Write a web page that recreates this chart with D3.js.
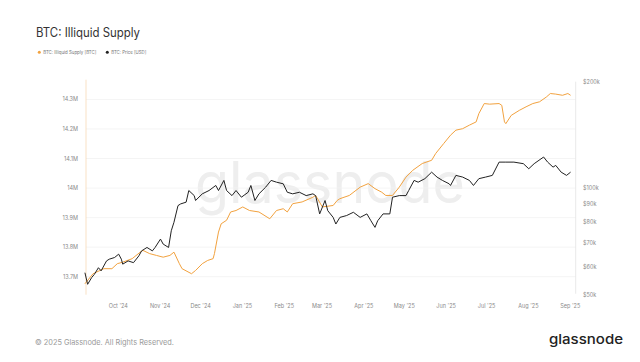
<!DOCTYPE html>
<html>
<head>
<meta charset="utf-8">
<script src="https://cdn.jsdelivr.net/npm/d3@7"></script>
<style>
  body { margin: 0; background: #fff; }
  svg { display: block; font-family: Inter, "Noto Sans", sans-serif; }
</style>
</head>
<body>
<script>
// illiquid supply [BTC, millions]
const supplyDates = ["2024-09-07","2024-09-13","2024-09-21","2024-09-27","2024-10-01","2024-10-05","2024-10-12","2024-10-18","2024-10-20","2024-10-25","2024-10-30","2024-11-04","2024-11-09","2024-11-12","2024-11-16","2024-11-18","2024-11-25","2024-11-28","2024-12-03","2024-12-07","2024-12-11","2024-12-12","2024-12-15","2024-12-17","2024-12-21","2024-12-24","2024-12-28","2025-01-02","2025-01-07","2025-01-14","2025-01-22","2025-01-27","2025-02-01","2025-02-04","2025-02-08","2025-02-15","2025-02-23","2025-02-25","2025-03-02","2025-03-10","2025-03-13","2025-03-15","2025-03-22","2025-03-30","2025-04-05","2025-04-10","2025-04-15","2025-04-18","2025-04-23","2025-04-28","2025-05-03","2025-05-08","2025-05-15","2025-05-22","2025-05-25","2025-05-31","2025-06-05","2025-06-09","2025-06-14","2025-06-19","2025-06-24","2025-06-26","2025-06-30","2025-07-04","2025-07-11","2025-07-13","2025-07-15","2025-07-16","2025-07-20","2025-07-26","2025-07-31","2025-08-05","2025-08-10","2025-08-15","2025-08-18","2025-08-22","2025-08-27","2025-08-31","2025-09-02"];
const supplyValues = [13.676,13.710,13.727,13.727,13.744,13.749,13.761,13.783,13.789,13.778,13.772,13.766,13.772,13.783,13.744,13.727,13.710,13.721,13.744,13.755,13.761,13.778,13.851,13.879,13.891,13.919,13.924,13.936,13.924,13.919,13.896,13.924,13.930,13.919,13.947,13.953,13.969,13.975,13.936,13.941,13.958,13.964,13.975,14.003,14.015,13.998,13.986,13.975,13.975,14.003,14.037,14.060,14.083,14.094,14.117,14.151,14.179,14.196,14.201,14.213,14.224,14.252,14.286,14.284,14.286,14.280,14.224,14.218,14.246,14.263,14.275,14.286,14.292,14.308,14.320,14.318,14.314,14.320,14.314];

// price [USD, thousands]
const priceDates = ["2024-09-07","2024-09-09","2024-09-12","2024-09-14","2024-09-17","2024-09-19","2024-09-23","2024-09-25","2024-09-29","2024-10-02","2024-10-04","2024-10-05","2024-10-09","2024-10-13","2024-10-17","2024-10-19","2024-10-23","2024-10-27","2024-10-29","2024-11-02","2024-11-04","2024-11-08","2024-11-10","2024-11-12","2024-11-15","2024-11-17","2024-11-21","2024-11-23","2024-11-27","2024-11-28","2024-12-03","2024-12-08","2024-12-13","2024-12-15","2024-12-19","2024-12-21","2024-12-25","2024-12-28","2025-01-01","2025-01-06","2025-01-08","2025-01-11","2025-01-14","2025-01-19","2025-01-23","2025-01-27","2025-02-01","2025-02-04","2025-02-08","2025-02-13","2025-02-18","2025-02-23","2025-02-25","2025-02-28","2025-03-04","2025-03-06","2025-03-10","2025-03-12","2025-03-15","2025-03-20","2025-03-25","2025-03-30","2025-04-04","2025-04-07","2025-04-10","2025-04-12","2025-04-16","2025-04-21","2025-04-23","2025-04-28","2025-05-03","2025-05-05","2025-05-09","2025-05-12","2025-05-17","2025-05-22","2025-05-26","2025-05-30","2025-06-04","2025-06-05","2025-06-09","2025-06-14","2025-06-19","2025-06-22","2025-06-26","2025-07-01","2025-07-06","2025-07-11","2025-07-16","2025-07-22","2025-07-29","2025-08-02","2025-08-06","2025-08-13","2025-08-16","2025-08-20","2025-08-22","2025-08-26","2025-08-30","2025-09-02"];
const priceValues = [57.7,53.5,55.9,57.1,59.6,58.4,62.3,63.0,63.7,65.1,63.0,61.0,62.3,61.6,64.4,66.5,68.0,66.5,68.0,71.8,69.5,68.0,75.8,80.1,89.3,90.3,91.3,98.5,95.3,92.3,96.4,98.5,101.8,98.5,105.2,98.5,95.3,98.5,94.3,97.4,101.8,92.3,96.4,100.7,105.2,104.0,102.9,97.4,96.4,97.4,95.3,96.4,95.3,84.6,92.3,86.4,82.7,79.2,82.7,83.7,85.5,82.7,84.6,80.9,77.5,80.9,84.6,84.6,94.3,95.3,95.3,98.5,105.2,104.0,106.4,111.0,107.5,105.2,102.9,101.8,108.7,107.5,105.2,101.8,106.4,107.5,108.7,118.5,118.5,118.5,117.3,113.5,117.3,122.5,118.5,114.7,116.0,111.0,108.7,111.0];

const supplyTicks = [13.7, 13.8, 13.9, 14.0, 14.1, 14.2, 14.3];
const priceTicks = [50, 60, 70, 80, 90, 100, 200];
const monthTicks = ["2024-10-01","2024-11-01","2024-12-01","2025-01-01","2025-02-01","2025-03-01","2025-04-01","2025-05-01","2025-06-01","2025-07-01","2025-08-01","2025-09-01"];

const W = 640, H = 362;
const plotLeft = 86, plotRight = 575.7, plotTop = 81.7, plotBottom = 294.7;
const orange = "#f2a23f", black = "#222";

let svg = d3.select("body").append("svg").attr("width", W).attr("height", H);

let x = d3.scaleUtc()
    .domain([new Date(Date.UTC(2024, 8, 7, 19)), new Date(Date.UTC(2025, 8, 5, 19))])
    .range([plotLeft, plotRight]);
let yL = d3.scaleLinear().domain([13.639, 14.36]).range([plotBottom, plotTop]);
let yR = d3.scaleLog().domain([50, 200]).range([plotBottom, plotTop]);

// watermark
svg.append("text")
    .attr("x", 195).attr("y", 203)
    .attr("textLength", 270).attr("lengthAdjust", "spacingAndGlyphs")
    .style("font-size", "57px")
    .attr("fill", "#eeeeee")
    .text("glassnode");

// grid
svg.append("g").selectAll("line").data(supplyTicks).enter().append("line")
    .attr("x1", plotLeft).attr("x2", plotRight)
    .attr("y1", d => yL(d)).attr("y2", d => yL(d))
    .attr("stroke", "#f1f1f1").attr("stroke-width", 0.8);

// axis lines
svg.append("line").attr("x1", plotLeft).attr("x2", plotLeft).attr("y1", plotTop - 2).attr("y2", plotBottom)
    .attr("stroke", "#f8d9b6").attr("stroke-width", 0.8);
svg.append("line").attr("x1", plotRight).attr("x2", plotRight).attr("y1", plotTop).attr("y2", plotBottom - 1)
    .attr("stroke", "#e2e2e2").attr("stroke-width", 0.8);

// left ticks
svg.append("g").selectAll("text").data(supplyTicks).enter().append("text")
    .attr("x", 78).attr("y", d => yL(d) + 2)
    .attr("text-anchor", "end")
    .style("font-size", "5.5px").attr("fill", "#8a8a8a")
    .text(d => d3.format(".1f")(d).replace(/\.0$/, "") + "M");

// right ticks
svg.append("g").selectAll("text").data(priceTicks).enter().append("text")
    .attr("x", 583).attr("y", d => yR(d) + 2)
    .style("font-size", "5.5px").attr("fill", "#8a8a8a")
    .text(d => "$" + d + "k");

// month ticks
let fmtMonth = d3.utcFormat("%b '%y");
svg.append("g").selectAll("text").data(monthTicks).enter().append("text")
    .attr("x", d => x(new Date(d)) + 1)
    .attr("y", 307.5)
    .attr("text-anchor", "middle")
    .style("font-size", "5.5px").attr("fill", "#8a8a8a")
    .text(d => fmtMonth(new Date(d)));

// lines
let supplyLine = d3.line()
    .x((d, i) => x(new Date(supplyDates[i])))
    .y(d => yL(d));
let priceLine = d3.line()
    .x((d, i) => x(new Date(priceDates[i])))
    .y(d => yR(d));

svg.append("path").datum(supplyValues)
    .attr("d", supplyLine)
    .attr("fill", "none").attr("stroke", orange).attr("stroke-width", 1)
    .attr("stroke-linejoin", "round");
svg.append("path").datum(priceValues)
    .attr("d", priceLine)
    .attr("fill", "none").attr("stroke", black).attr("stroke-width", 1)
    .attr("stroke-linejoin", "round");

// title
svg.append("text")
    .attr("x", 36).attr("y", 37)
    .attr("textLength", 104).attr("lengthAdjust", "spacingAndGlyphs")
    .style("font-size", "12.5px").attr("fill", "#333")
    .text("BTC: Illiquid Supply");

// legend
let legend = [
    { label: "BTC: Illiquid Supply [BTC]", color: orange, x: 39.3, len: 53 },
    { label: "BTC: Price [USD]", color: black, x: 107.3, len: 35 }
];
let lg = svg.append("g").selectAll("g").data(legend).enter().append("g");
lg.append("circle").attr("cx", d => d.x).attr("cy", 52.3).attr("r", 1.5).attr("fill", d => d.color);
lg.append("text")
    .attr("x", d => d.x + 4).attr("y", 54)
    .attr("textLength", d => d.len).attr("lengthAdjust", "spacingAndGlyphs")
    .style("font-size", "4.6px").attr("fill", "#777")
    .text(d => d.label);

// footer
svg.append("text")
    .attr("x", 35).attr("y", 345)
    .attr("textLength", 139).attr("lengthAdjust", "spacingAndGlyphs")
    .style("font-size", "7.5px").attr("fill", "#9a9a9a")
    .text("© 2025 Glassnode. All Rights Reserved.");
svg.append("text")
    .attr("x", 549).attr("y", 344)
    .attr("textLength", 74).attr("lengthAdjust", "spacingAndGlyphs")
    .style("font-size", "13.5px").style("font-weight", 500).attr("fill", "#222")
    .text("glassnode");
</script>
</body>
</html>
